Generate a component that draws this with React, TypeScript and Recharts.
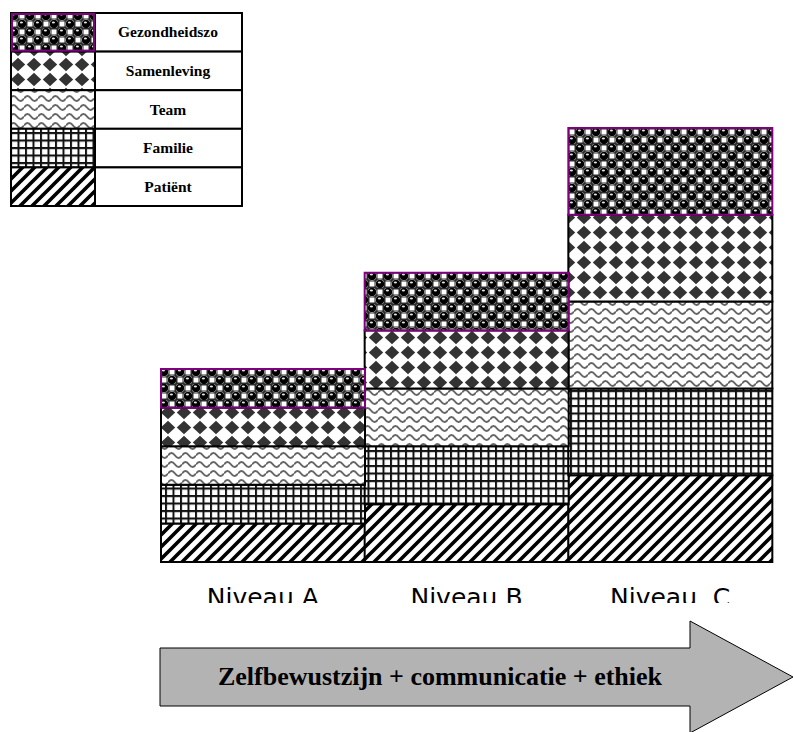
import { BarChart, Bar, XAxis, YAxis, Legend } from "recharts"

const levels = ["Niveau A", "Niveau B", "Niveau  C"]
const patient = [2, 3, 4.5]
const familie = [2, 3, 4.5]
const team = [2, 3, 4.5]
const samenleving = [2, 3, 4.5]
const gezondheidszorg = [2, 3, 4.5]
const arrowText = "Zelfbewustzijn + communicatie + ethiek"

// bottom to top, as stacked
const series = [
  { key: "patient", name: "Patiënt", pattern: "stripes", stroke: "#000" },
  { key: "familie", name: "Familie", pattern: "grid", stroke: "#000" },
  { key: "team", name: "Team", pattern: "waves", stroke: "#000" },
  { key: "samenleving", name: "Samenleving", pattern: "diamonds", stroke: "#000" },
  { key: "gezondheidszorg", name: "Gezondheidszo", pattern: "spheres", stroke: "#800080" },
]

const data = levels.map((level, i) => ({
  level,
  patient: patient[i],
  familie: familie[i],
  team: team[i],
  samenleving: samenleving[i],
  gezondheidszorg: gezondheidszorg[i],
}))

const serif = "'Liberation Serif', 'Times New Roman', serif"

function Patterns({ p }: { p: string }) {
  return (
    <defs>
      <pattern id={`${p}-stripes`} width={12} height={12} patternUnits="userSpaceOnUse">
        <rect width={12} height={12} fill="#fff" />
        <path d="M-3,3 L3,-3 M0,12 L12,0 M9,15 L15,9" stroke="#000" strokeWidth={3.6} />
      </pattern>
      <pattern id={`${p}-grid`} width={7.5} height={7.5} patternUnits="userSpaceOnUse">
        <rect width={7.5} height={7.5} fill="#fff" />
        <path d="M1,0 V7.5 M0,1 H7.5" stroke="#111" strokeWidth={2} />
      </pattern>
      <pattern id={`${p}-waves`} width={14} height={9} patternUnits="userSpaceOnUse">
        <rect width={14} height={9} fill="#fff" />
        <path d="M0,5.5 Q3.5,0.5 7,5.5 T14,5.5" fill="none" stroke="#666" strokeWidth={2} />
      </pattern>
      <pattern id={`${p}-diamonds`} width={16} height={15} patternUnits="userSpaceOnUse">
        <rect width={16} height={15} fill="#fff" />
        <path d="M8,0.8 L15.2,7.5 L8,14.2 L0.8,7.5 Z" fill="#333" />
      </pattern>
      <pattern id={`${p}-spheres`} width={16} height={16} patternUnits="userSpaceOnUse">
        <rect width={16} height={16} fill="#2a2a2a" />
        <rect x={9.5} y={1.5} width={5} height={5} fill="#fff" />
        <rect x={1.5} y={9.5} width={5} height={5} fill="#fff" />
        <circle cx={4} cy={4} r={4.6} fill="#000" stroke="#8a8a8a" strokeWidth={1} />
        <circle cx={12} cy={12} r={4.6} fill="#000" stroke="#8a8a8a" strokeWidth={1} />
        <circle cx={0} cy={16} r={0} fill="#000" />
        <ellipse cx={3.4} cy={2.6} rx={1.6} ry={1} fill="#e0e0e0" />
        <ellipse cx={11.4} cy={10.6} rx={1.6} ry={1} fill="#e0e0e0" />
      </pattern>
    </defs>
  )
}

function LevelTick({ x, y, payload }: any) {
  return (
    <g clipPath="url(#tick-clip)">
      <text
        x={x}
        y={y + 36}
        textAnchor="middle"
        fontFamily="'DejaVu Sans', sans-serif"
        fontSize={25}
        fill="#000"
        style={{ whiteSpace: "pre" }}
      >
        {payload.value}
      </text>
    </g>
  )
}

function LegendTable({ payload }: any) {
  const rowH = 38.6
  // top of the stack first
  const items = [...(payload || [])].sort(
    (a: any, b: any) =>
      series.findIndex((s) => s.key === b.dataKey) - series.findIndex((s) => s.key === a.dataKey)
  )
  return (
    <svg width={234} height={196} style={{ display: "block" }}>
      <Patterns p="lg" />
      {items.map((item: any, i: number) => {
        const s = series.find((d) => d.key === item.dataKey)!
        const y = 1 + i * rowH
        return (
          <g key={s.key}>
            <rect x={1} y={y} width={84} height={rowH} fill={`url(#lg-${s.pattern})`} stroke="#000" strokeWidth={2} />
            <rect x={85} y={y} width={147} height={rowH} fill="#fff" stroke="#000" strokeWidth={2} />
            <text x={158} y={y + rowH / 2 + 5} textAnchor="middle" fontFamily={serif} fontWeight="bold" fontSize={15.5}>
              {item.value}
            </text>
          </g>
        )
      })}
      {items.length > 0 && (
        <rect x={2} y={2} width={82} height={rowH - 2} fill="none" stroke="#800080" strokeWidth={2} />
      )}
    </svg>
  )
}

export default function App() {
  return (
    <div style={{ position: "absolute", left: 0, top: 0, width: 794, height: 732, background: "#fff" }}>
      <BarChart
        width={794}
        height={732}
        data={data}
        margin={{ top: 128, right: 22, bottom: 140, left: 161 }}
        barCategoryGap={0}
      >
        <Patterns p="ch" />
        <defs>
          <clipPath id="tick-clip">
            <rect x={0} y={0} width={794} height={603} />
          </clipPath>
        </defs>
        <XAxis dataKey="level" axisLine={false} tickLine={false} tick={<LevelTick />} interval={0} />
        <YAxis hide domain={[0, 22.5]} />
        <Legend
          layout="vertical"
          align="center"
          verticalAlign="middle"
          wrapperStyle={{ left: 10, top: 12, width: 234 }}
          content={<LegendTable />}
        />
        {series.map((s) => (
          <Bar
            key={s.key}
            dataKey={s.key}
            name={s.name}
            stackId="levels"
            fill={`url(#ch-${s.pattern})`}
            stroke={s.stroke}
            strokeWidth={2}
            isAnimationActive={false}
          />
        ))}
        <g>
          <path
            d="M160,648 H690 V621 L793,677 L690,733 V706 H160 Z"
            fill="#b3b3b3"
            stroke="#000"
            strokeWidth={1}
          />
          <text x={440} y={685} textAnchor="middle" fontFamily={serif} fontWeight="bold" fontSize={26} fill="#000">
            {arrowText}
          </text>
        </g>
      </BarChart>
    </div>
  )
}
